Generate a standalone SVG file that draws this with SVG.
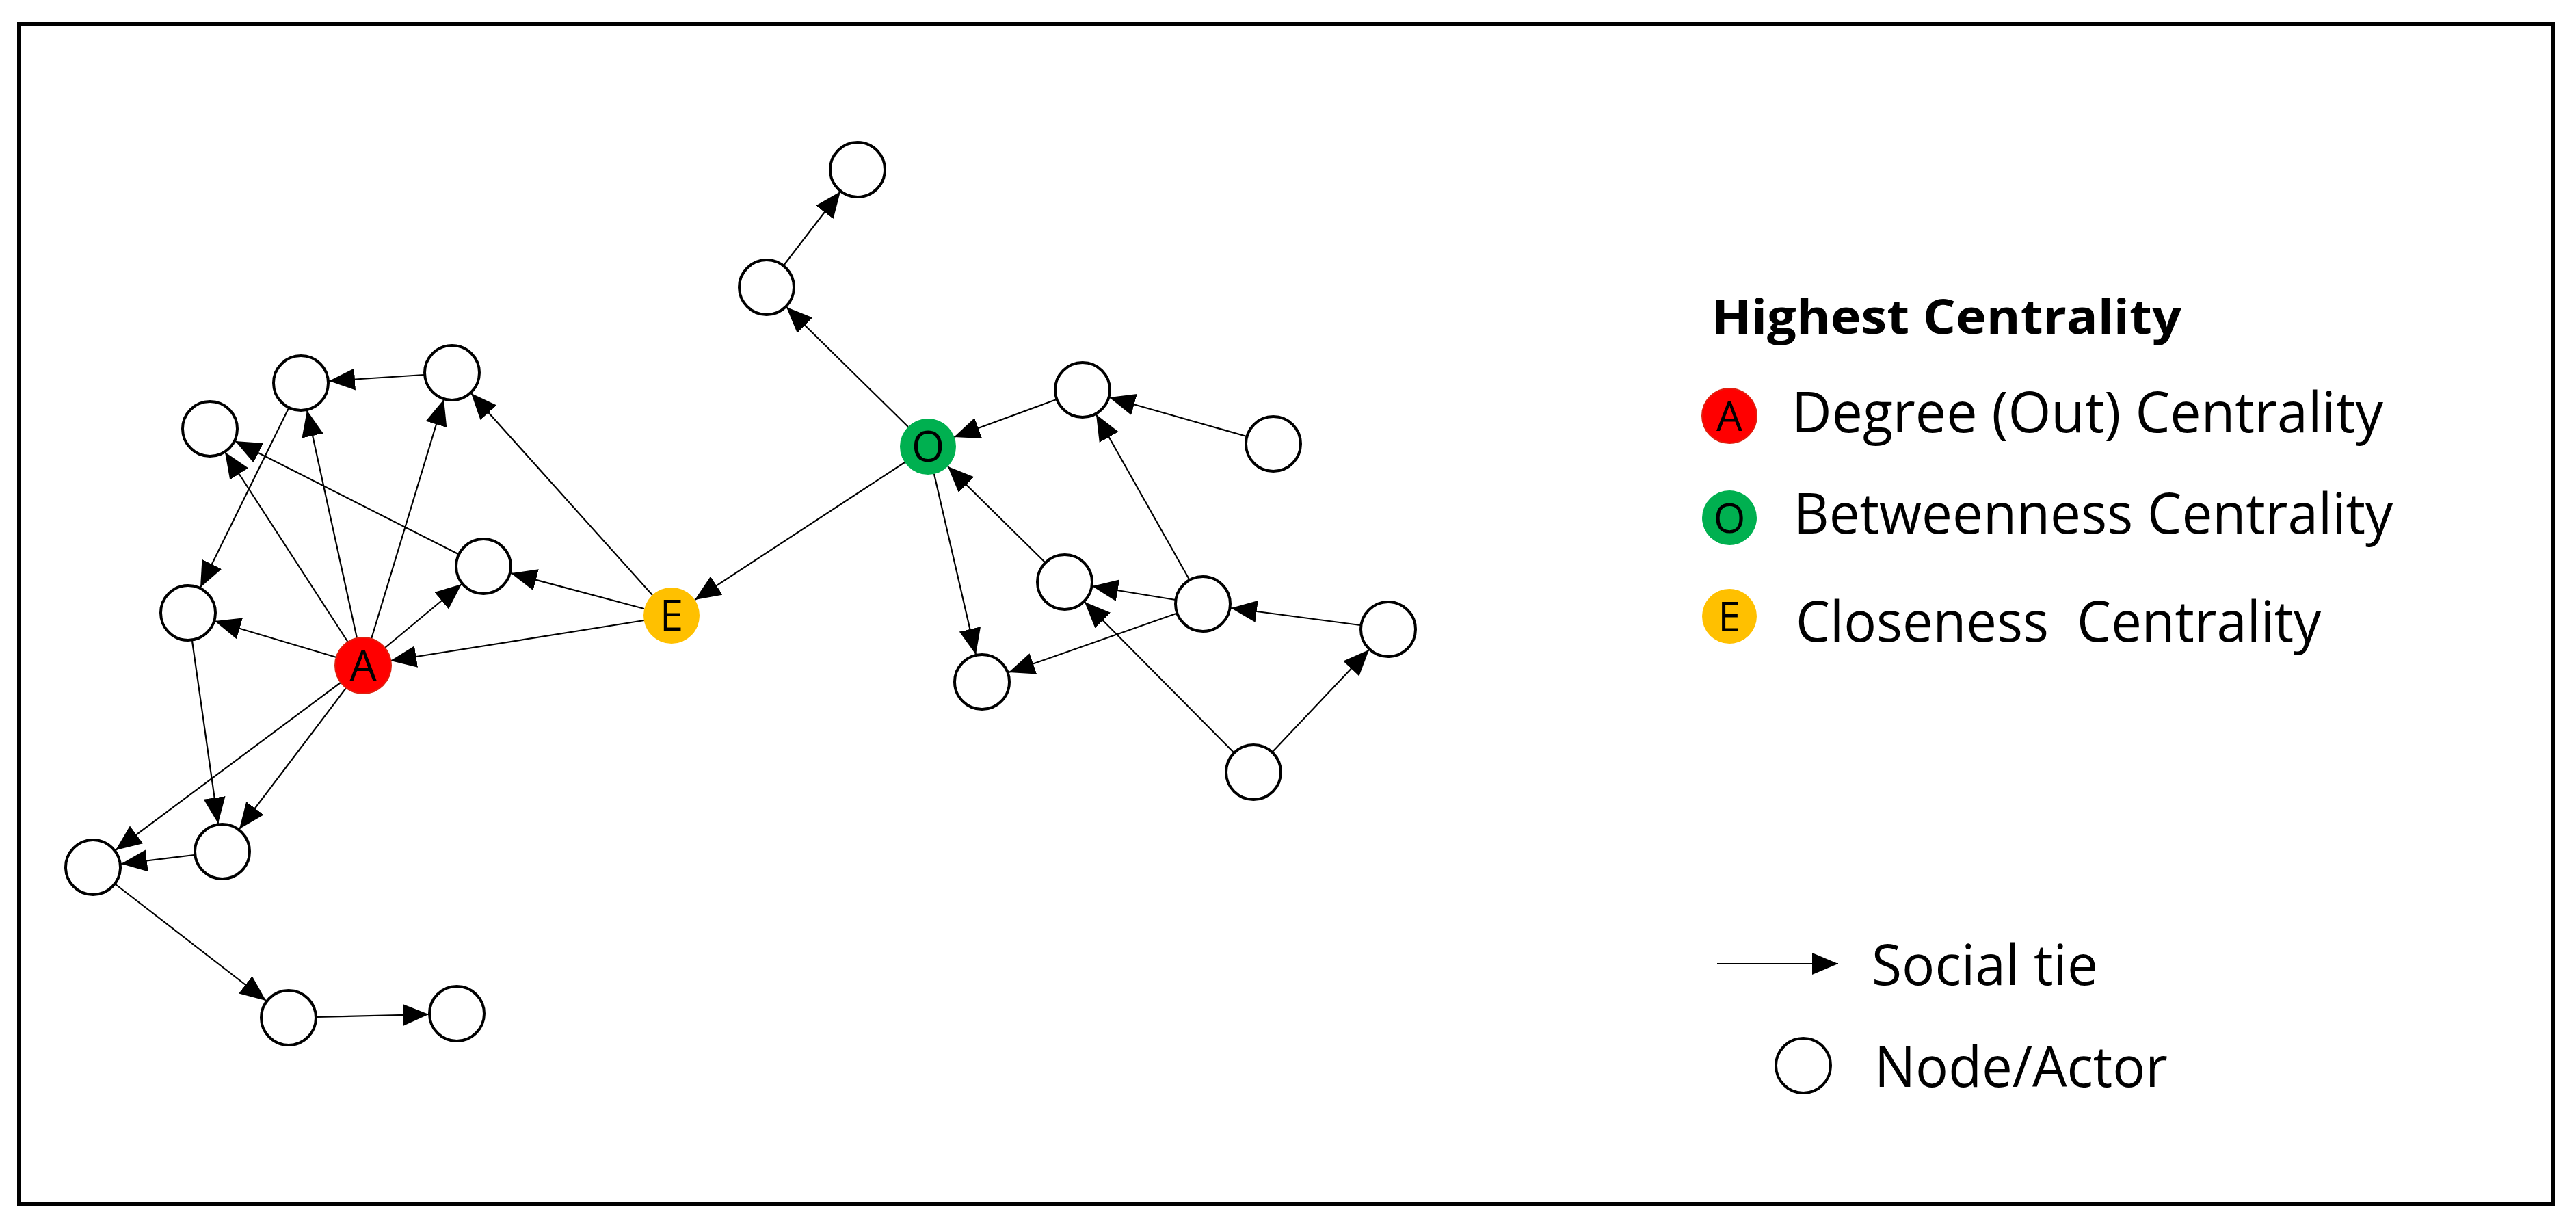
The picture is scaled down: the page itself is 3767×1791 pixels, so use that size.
<svg xmlns="http://www.w3.org/2000/svg" width="3767" height="1791" viewBox="0 0 3767 1791">
<style>
.n{fill:#fff;stroke:#000;stroke-width:4}
.e{stroke:#000;stroke-width:2.2;fill:none;marker-end:url(#ah)}
.t{font-family:"Open Sans","Liberation Sans",sans-serif;fill:#000}
</style>
<defs>
<marker id="ah" markerUnits="userSpaceOnUse" markerWidth="40" markerHeight="34" refX="38" refY="16" orient="auto"><path d="M0,0 L38,16 L0,32 Z" fill="#000"/></marker>
</defs>
<rect x="28" y="35" width="3706" height="1725" fill="#fff" stroke="#000" stroke-width="6"/>
<g id="connectors">
<line class="e" x1="1146" y1="388" x2="1229" y2="280"/>
<line class="e" x1="1328" y1="624" x2="1150" y2="449"/>
<line class="e" x1="1323" y1="676" x2="1016" y2="877"/>
<line class="e" x1="1545" y1="584" x2="1395" y2="639"/>
<line class="e" x1="1823" y1="638" x2="1622" y2="581"/>
<line class="e" x1="1528" y1="822" x2="1386" y2="682"/>
<line class="e" x1="1719" y1="877" x2="1597" y2="857"/>
<line class="e" x1="1739" y1="847" x2="1603" y2="606"/>
<line class="e" x1="1720" y1="897" x2="1475" y2="983"/>
<line class="e" x1="1989" y1="914" x2="1800" y2="889"/>
<line class="e" x1="1861" y1="1099" x2="2002" y2="950"/>
<line class="e" x1="1804" y1="1100" x2="1586" y2="880"/>
<line class="e" x1="1366" y1="693" x2="1427" y2="957"/>
<line class="e" x1="942" y1="907" x2="571" y2="966"/>
<line class="e" x1="942" y1="890" x2="747" y2="838"/>
<line class="e" x1="954" y1="870" x2="689" y2="575"/>
<line class="e" x1="670" y1="810" x2="344" y2="645"/>
<line class="e" x1="543" y1="934" x2="649" y2="584"/>
<line class="e" x1="522" y1="933" x2="449" y2="600"/>
<line class="e" x1="509" y1="939" x2="329" y2="661"/>
<line class="e" x1="492" y1="961" x2="314" y2="908"/>
<line class="e" x1="563" y1="947" x2="675" y2="854"/>
<line class="e" x1="498" y1="998" x2="169" y2="1243"/>
<line class="e" x1="506" y1="1006" x2="350" y2="1212"/>
<line class="e" x1="620" y1="548" x2="481" y2="557"/>
<line class="e" x1="422" y1="597" x2="293" y2="859"/>
<line class="e" x1="281" y1="937" x2="319" y2="1204"/>
<line class="e" x1="284" y1="1250" x2="177" y2="1263"/>
<line class="e" x1="169" y1="1293" x2="389" y2="1463"/>
<line class="e" x1="463" y1="1487" x2="627" y2="1483"/>
</g>
<g id="n1"><circle class="n" cx="1254" cy="248" r="40"/></g>
<g id="n2"><circle class="n" cx="1121" cy="420" r="40"/></g>
<g id="n3"><circle class="n" cx="1583" cy="570" r="40"/></g>
<g id="n4"><circle class="n" cx="1862" cy="649" r="40"/></g>
<g id="n5"><circle class="n" cx="1557" cy="851" r="40"/></g>
<g id="n6"><circle class="n" cx="1759" cy="883" r="40"/></g>
<g id="n7"><circle class="n" cx="1436" cy="997" r="40"/></g>
<g id="n8"><circle class="n" cx="1833" cy="1129" r="40"/></g>
<g id="n9"><circle class="n" cx="2030" cy="920" r="40"/></g>
<g id="a1"><circle class="n" cx="440" cy="560" r="40"/></g>
<g id="a2"><circle class="n" cx="661" cy="545" r="40"/></g>
<g id="a3"><circle class="n" cx="307" cy="627" r="40"/></g>
<g id="a4"><circle class="n" cx="707" cy="828" r="40"/></g>
<g id="a5"><circle class="n" cx="275" cy="896" r="40"/></g>
<g id="a6"><circle class="n" cx="325" cy="1245" r="40"/></g>
<g id="a7"><circle class="n" cx="136" cy="1268" r="40"/></g>
<g id="a8"><circle class="n" cx="422" cy="1488" r="40"/></g>
<g id="a9"><circle class="n" cx="668" cy="1482" r="40"/></g>
<g id="nodeO"><circle cx="1357" cy="653" r="41" fill="#00B050"/><text class="t" x="1357" y="675" font-size="62" text-anchor="middle">O</text></g>
<g id="nodeE"><circle cx="982" cy="900" r="41" fill="#FFC000"/><text class="t" x="982" y="922" font-size="62" text-anchor="middle">E</text></g>
<g id="nodeA"><circle cx="531" cy="973" r="41" fill="#FF0000" stroke="#E02010" stroke-width="2"/><text class="t" x="531" y="995" font-size="62" text-anchor="middle">A</text></g>
<g id="legend">
<text class="t" x="2503" y="488" font-size="70" font-weight="bold" textLength="687" lengthAdjust="spacingAndGlyphs">Highest Centrality</text>
<circle cx="2529" cy="608" r="40" fill="#FF0000" stroke="#E02010" stroke-width="2"/><text class="t" x="2529" y="630" font-size="60" text-anchor="middle">A</text>
<text class="t" x="2620" y="632" font-size="82" textLength="865" lengthAdjust="spacingAndGlyphs">Degree (Out) Centrality</text>
<circle cx="2529" cy="757" r="40" fill="#00B050"/><text class="t" x="2529" y="779" font-size="60" text-anchor="middle">O</text>
<text class="t" x="2623" y="780" font-size="82" textLength="876" lengthAdjust="spacingAndGlyphs">Betweenness Centrality</text>
<circle cx="2529" cy="901" r="40" fill="#FFC000"/><text class="t" x="2529" y="923" font-size="60" text-anchor="middle">E</text>
<text class="t" x="2626" y="938" font-size="82" textLength="768" lengthAdjust="spacingAndGlyphs" xml:space="preserve">Closeness  Centrality</text>
<line class="e" x1="2511" y1="1409" x2="2688" y2="1409"/>
<text class="t" x="2737" y="1440" font-size="82" textLength="331" lengthAdjust="spacingAndGlyphs">Social tie</text>
<circle class="n" cx="2637" cy="1558" r="40"/>
<text class="t" x="2741" y="1589" font-size="82" textLength="429" lengthAdjust="spacingAndGlyphs">Node/Actor</text>
</g>
</svg>
